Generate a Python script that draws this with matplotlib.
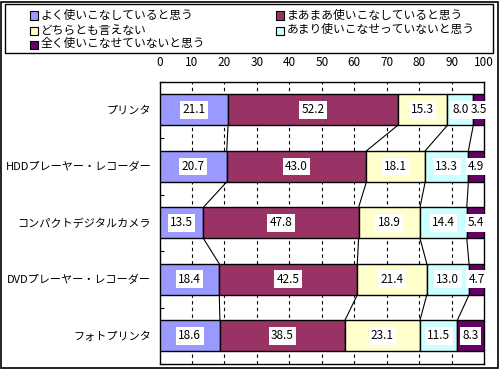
import numpy as np
import matplotlib.pyplot as plt
from matplotlib.patches import Rectangle

plt.rcParams['font.family'] = ['Noto Sans CJK JP', 'DejaVu Sans']

categories = ['プリンタ', 'HDDプレーヤー・レコーダー', 'コンパクトデジタルカメラ',
              'DVDプレーヤー・レコーダー', 'フォトプリンタ']
series_names = ['よく使いこなしていると思う', 'まあまあ使いこなしていると思う',
                'どちらとも言えない', 'あまり使いこなせっていないと思う',
                '全く使いこなせていないと思う']
s1 = [21.1, 20.7, 13.5, 18.4, 18.6]
s2 = [52.2, 43.0, 47.8, 42.5, 38.5]
s3 = [15.3, 18.1, 18.9, 21.4, 23.1]
s4 = [8.0, 13.3, 14.4, 13.0, 11.5]
s5 = [3.5, 4.9, 5.4, 4.7, 8.3]
colors = ['#9999FF', '#993366', '#FFFFCC', '#CCFFFF', '#660066']
xticks = [0, 10, 20, 30, 40, 50, 60, 70, 80, 90, 100]

fig = plt.figure(figsize=(5.0, 3.69), dpi=100)
ax = fig.add_axes([159.5 / 500, 1 - 364 / 369, 324.8 / 500, 282.3 / 369])

data = np.array([s1, s2, s3, s4, s5])
y = np.arange(len(categories))
h = 0.55
left = np.zeros(len(categories))
for k in range(len(data)):
    vals = data[k]
    ax.barh(y, vals, left=left, height=h, color=colors[k],
            edgecolor='black', linewidth=1.0, zorder=3)
    for i, v in enumerate(vals):
        ax.text(left[i] + v / 2, y[i], '{:.1f}'.format(v), ha='center', va='center',
                fontsize=8.5, zorder=5,
                bbox=dict(boxstyle='square,pad=0.2', fc='white', ec='none'))
    left = left + vals
    # series lines between bars
    if k < len(data) - 1:
        for i in range(len(categories) - 1):
            ax.plot([left[i], left[i + 1]], [y[i] + h / 2, y[i + 1] - h / 2],
                    color='black', linewidth=0.8, zorder=4)

ax.set_xlim(0, 100)
ax.set_ylim(len(categories) - 0.5, -0.5)
ax.xaxis.tick_top()
ax.set_xticks(xticks)
ax.tick_params(axis='x', length=0, pad=9, labelsize=8.5)
ax.set_yticks(y)
ax.set_yticklabels(categories)
ax.set_yticks(np.arange(len(categories) + 1) - 0.5, minor=True)
ax.tick_params(axis='y', which='major', length=0, pad=6, labelsize=8)
ax.tick_params(axis='y', which='minor', length=3, direction='in', width=0.8)
for xv in xticks[1:-1]:
    ax.axvline(xv, color='black', linewidth=0.8, linestyle=(0, (3, 3)), zorder=1)
for sp in ax.spines.values():
    sp.set_linewidth(1.0)

# legend box
fig.patches.append(Rectangle((5 / 500, 1 - 53 / 369), 488 / 500, 49 / 369,
                             transform=fig.transFigure, fill=False,
                             edgecolor='black', linewidth=1.0))
col_x = [30, 276]
row_y = [15, 30, 44]
for i, name in enumerate(series_names):
    cx = col_x[i % 2]
    cy = row_y[i // 2]
    fig.patches.append(Rectangle((cx / 500, 1 - (cy + 4.5) / 369), 8 / 500, 8 / 369,
                                 transform=fig.transFigure, facecolor=colors[i],
                                 edgecolor='black', linewidth=0.8))
    fig.text((cx + 11) / 500, 1 - cy / 369, name, ha='left', va='center', fontsize=8.5)

# outer border
fig.patches.append(Rectangle((1 / 500, 1 / 369), 497 / 500, 366 / 369,
                             transform=fig.transFigure, fill=False,
                             edgecolor='black', linewidth=1.2))

fig.savefig('out.png', dpi=100)
